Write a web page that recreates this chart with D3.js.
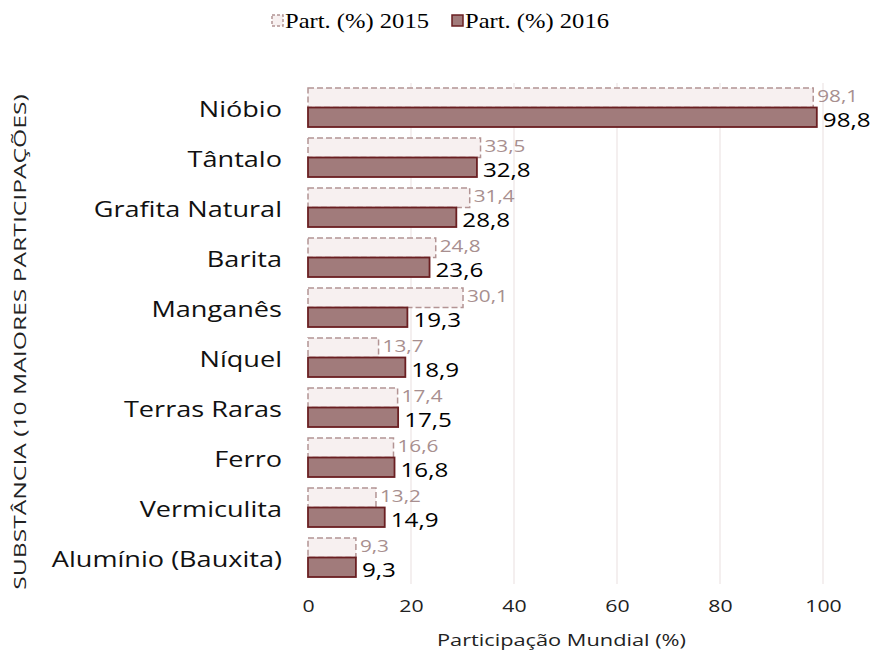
<!DOCTYPE html>
<html><head><meta charset="utf-8">
<script src="https://cdn.jsdelivr.net/npm/d3@7/dist/d3.min.js"></script>
<style>body{margin:0;background:#fff}</style>
</head><body>
<svg id="c" width="875" height="655"></svg>
<script>
const categories = ["Nióbio","Tântalo","Grafita Natural","Barita","Manganês","Níquel","Terras Raras","Ferro","Vermiculita","Alumínio (Bauxita)"];
const values2015 = [98.1,33.5,31.4,24.8,30.1,13.7,17.4,16.6,13.2,9.3];
const values2016 = [98.8,32.8,28.8,23.6,19.3,18.9,17.5,16.8,14.9,9.3];
const seriesNames = ["Part. (%) 2015","Part. (%) 2016"];
const xTicks = [0,20,40,60,80,100];

const svg = d3.select("#c");
const sans = "'Open Sans',sans-serif";
const serif = "'Liberation Serif',serif";
const x = d3.scaleLinear().domain([0,100]).range([308,823]);
const y = d3.scaleBand().domain(categories).range([83,583]);
const sub = d3.scaleBand().domain(["2015","2016"]).range([5,44]);
const fmt = v => d3.format(".1f")(v).replace(".", ",");
// widen glyphs to approximate the wide geometric face of the original
function stretch(sel, k){
  sel.each(function(){
    const w = this.getComputedTextLength();
    d3.select(this).attr("textLength", w*k).attr("lengthAdjust","spacingAndGlyphs");
  });
}

// gridlines
svg.append("g").selectAll("line").data(xTicks.slice(1)).join("line")
  .attr("x1",d=>x(d)).attr("x2",d=>x(d)).attr("y1",83).attr("y2",584)
  .attr("stroke","#efe6e6").attr("stroke-width",1.3);

const rows = categories.map((c,i)=>({c, a:values2015[i], b:values2016[i]}));

// 2015 bars
svg.append("g").selectAll("rect").data(rows).join("rect")
  .attr("x",x(0)).attr("y",d=>y(d.c)+sub("2015"))
  .attr("width",d=>x(d.a)-x(0)).attr("height",sub.bandwidth())
  .attr("fill","#f7f0f0").attr("stroke","#b39494").attr("stroke-width",1.5)
  .attr("stroke-dasharray","6,3");
// 2016 bars
svg.append("g").selectAll("rect").data(rows).join("rect")
  .attr("x",x(0)).attr("y",d=>y(d.c)+sub("2016"))
  .attr("width",d=>x(d.b)-x(0)).attr("height",sub.bandwidth())
  .attr("fill","#a17b7b").attr("stroke","#6a1f22").attr("stroke-width",1.8);

// value labels
svg.append("g").selectAll("text").data(rows).join("text")
  .attr("x",d=>x(d.a)+4).attr("y",d=>y(d.c)+sub("2015")+sub.bandwidth()/2-2)
  .attr("dominant-baseline","central").attr("font-family",sans).attr("font-size",17)
  .attr("fill","#a88f8f").text(d=>fmt(d.a)).call(stretch,1.22);
svg.append("g").selectAll("text").data(rows).join("text")
  .attr("x",d=>x(d.b)+6).attr("y",d=>y(d.c)+sub("2016")+sub.bandwidth()/2+2)
  .attr("dominant-baseline","central").attr("font-family",sans).attr("font-size",19.5)
  .attr("fill","#000").text(d=>fmt(d.b)).call(stretch,1.24);

// category axis
const yAxis = d3.axisLeft(y).tickSize(0).tickPadding(0);
const gy = svg.append("g").attr("transform","translate(282,2)").call(yAxis);
gy.select(".domain").remove();
gy.selectAll("text").attr("font-family",sans).attr("font-size",21.5).attr("fill","#111").call(stretch,1.26);

// x axis
const xAxis = d3.axisBottom(x).tickValues(xTicks).tickSize(0).tickPadding(0);
const gx = svg.append("g").attr("transform","translate(0,600)").call(xAxis);
gx.select(".domain").remove();
gx.selectAll("text").attr("font-family",sans).attr("font-size",17).attr("fill","#222").call(stretch,1.25);

svg.append("text").attr("x",x(50)-4).attr("y",646).attr("text-anchor","middle")
  .attr("font-family",sans).attr("font-size",17).attr("fill","#222").text("Participação Mundial (%)").call(stretch,1.28);
svg.append("text").attr("transform","translate(26,342) rotate(-90)").attr("text-anchor","middle")
  .attr("font-family",sans).attr("font-size",16).attr("fill","#222").text("SUBSTÂNCIA (10 MAIORES PARTICIPAÇÕES)").call(stretch,1.54);

// legend
const leg = svg.append("g");
const legX = [272, 452];
leg.selectAll("rect").data(seriesNames).join("rect")
  .attr("x",(d,i)=>legX[i]).attr("y",15).attr("width",11).attr("height",11)
  .attr("fill",(d,i)=>i?"#a17b7b":"#f7f0f0").attr("stroke",(d,i)=>i?"#6a1f22":"#b39494")
  .attr("stroke-width",1.5).attr("stroke-dasharray",(d,i)=>i?null:"3,2");
leg.selectAll("text").data(seriesNames).join("text")
  .attr("x",(d,i)=>legX[i]+13).attr("y",28)
  .attr("font-family",serif).attr("font-size",21).attr("fill","#000").text(d=>d).call(stretch,1.17);
</script>
</body></html>
